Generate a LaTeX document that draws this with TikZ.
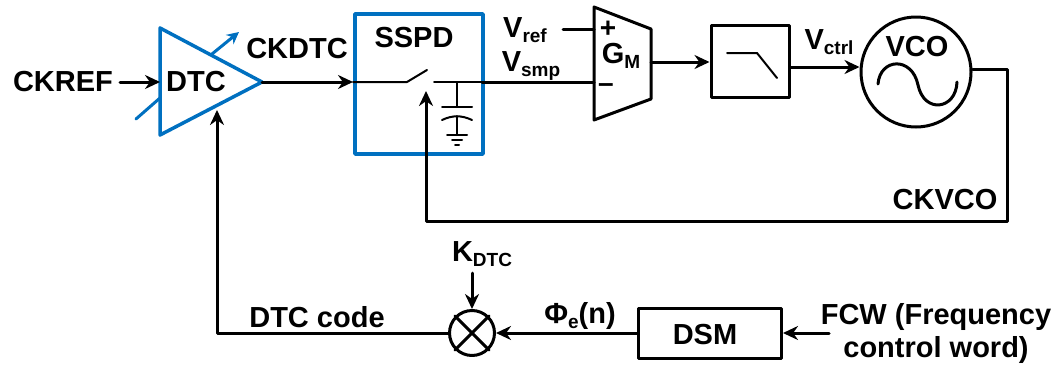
\documentclass[tikz,border=0pt]{standalone}
\usepackage{fontspec}
\usetikzlibrary{arrows.meta}
\setmainfont{Liberation Sans}
\definecolor{dtcblue}{RGB}{0,112,192}
\newcommand{\lbl}[2]{#1\raisebox{-5pt}{\fontsize{19}{19}\selectfont #2}}
\tikzset{
	lab/.style={font=\fontsize{29}{33}\selectfont\bfseries, inner sep=0pt, align=center},
	sign/.style={font=\fontsize{28}{28}\selectfont\bfseries, inner sep=0pt},
	wire/.style={line width=3pt},
	thinwire/.style={line width=2pt},
	bluewire/.style={line width=3.5pt, draw=dtcblue},
	block/.style={draw, line width=3pt, rectangle, inner sep=0pt}
}
\begin{document}
\begin{tikzpicture}[x=1pt, y=-1pt, line join=round, line cap=round, >={Stealth[length=15pt,width=14pt]}]
	\useasboundingbox (0,0) rectangle (1056,364);
	% DTC
	\coordinate (dtcTop) at (160,28);
	\coordinate (dtcBot) at (160,135);
	\coordinate (dtcOut) at (262,82);
	\coordinate (dtcIn) at (160,82);
	\coordinate (dtcFb) at (217,110);
	\coordinate (tuneA) at (136,119);
	\coordinate (tuneB) at (160,98);
	\coordinate (tuneC) at (212,54);
	\coordinate (tuneD) at (239,32);
	\draw[bluewire] (dtcTop)--(dtcOut)--(dtcBot)--cycle;
	\draw[bluewire, line width=3pt] (tuneA)--(tuneB);
	\draw[bluewire, line width=3pt, -{Stealth[length=12pt,width=12pt]}, dtcblue] (tuneC)--(tuneD);
	\node[lab] (dtcL) at (196,82) {DTC};
	\node[lab] (ckref) at (63,82) {CKREF};
	\coordinate (ckrefEnd) at (120,82);
	\draw[wire, ->] (ckrefEnd)--(dtcIn);
	\node[lab] (ckdtc) at (297,49) {CKDTC};
	% SSPD
	\node[draw=dtcblue, line width=3.5pt, minimum width=128pt, minimum height=140pt, inner sep=0pt] (sspd) at (419,84) {};
	\node[lab] (sspdL) at (414,38) {SSPD};
	\coordinate (swA) at (353,82);
	\coordinate (swB) at (407,82);
	\coordinate (swC) at (427,70);
	\coordinate (swD) at (434,82);
	\coordinate (swE) at (482,82);
	\coordinate (capA) at (457,82);
	\coordinate (capB) at (457,107);
	\coordinate (capC) at (457,116);
	\coordinate (capD) at (457,135);
	\draw[wire, ->] (dtcOut)--(swA);
	\draw[thinwire] (swA)--(swB)--(swC);
	\draw[thinwire] (swD)--(swE);
	\draw[thinwire] (capA)--(capB);
	\draw[thinwire] (442,107)--(472,107);
	\draw[thinwire] (442,120) to[out=25,in=155] (472,120);
	\draw[thinwire] (capC)--(capD);
	\draw[thinwire] (447,135)--(467,135);
	\draw[thinwire] (452,140)--(462,140);
	\draw[thinwire] (455,145)--(459,145);
	% GM
	\coordinate (gmA) at (594,7);
	\coordinate (gmB) at (651,29);
	\coordinate (gmC) at (651,99);
	\coordinate (gmD) at (594,120);
	\coordinate (gmP) at (594,29);
	\coordinate (gmN) at (594,82);
	\coordinate (gmOut) at (651,62);
	\coordinate (vrefEnd) at (563,29);
	\draw[wire] (gmA)--(gmB)--(gmC)--(gmD)--cycle;
	\draw[wire] (vrefEnd)--(gmP);
	\draw[wire] (swE)--(gmN);
	\node[sign] (plusL) at (608,29) {+};
	\node[sign, anchor=base] (minusL) at (606,92) {--};
	\node[lab] (gmL) at (621,56) {\lbl{G}{M}};
	\node[lab] (vref) at (525,30) {\lbl{V}{ref}};
	\node[lab] (vsmp) at (531,66) {\lbl{V}{smp}};
	% filter
	\node[block, minimum width=78pt, minimum height=72pt] (lpf) at (750,61) {};
	\coordinate (lpfA) at (727,53);
	\coordinate (lpfB) at (757,53);
	\coordinate (lpfC) at (777,78);
	\draw[thinwire] (lpfA)--(lpfB)--(lpfC);
	\draw[wire, ->] (gmOut)--(lpf.west |- gmOut);
	% VCO
	\node[draw, circle, line width=3pt, minimum size=110pt, inner sep=0pt] (vco) at (916,72) {};
	\node[lab] (vcoL) at (917,47) {VCO};
	\draw[line width=3pt] (878,84) .. controls (880,58) and (912,56) .. (918,85) .. controls (924,114) and (956,110) .. (957,82);
	\draw[wire, ->] (lpf.east |- 0,67)--(vco.west |- 0,67);
	\node[lab] (vctrl) at (829,42) {\lbl{V}{ctrl}};
	\coordinate (fbA) at (1007,69);
	\coordinate (fbB) at (1007,221);
	\coordinate (fbC) at (426,221);
	\coordinate (fbD) at (426,91);
	\draw[wire, ->] (vco.east |- fbA)--(fbA)--(fbB)--(fbC)--(fbD);
	\node[lab] (ckvco) at (945,200) {CKVCO};
	% bottom row
	\node[draw, circle, line width=3pt, minimum size=45pt, inner sep=0pt] (mix) at (472,333) {};
	\draw[line width=3pt] (mix.north west)--(mix.south east);
	\draw[line width=3pt] (mix.north east)--(mix.south west);
	\node[block, minimum width=143pt, minimum height=50pt] (dsm) at (710,333) {};
	\node[lab] (dsmL) at (705,335) {DSM};
	\node[lab] (kdtc) at (482,254) {\lbl{K}{DTC}};
	\coordinate (kEnd) at (472,273);
	\draw[wire, ->] (kEnd)--(mix.north);
	\draw[wire, ->] (dsm.west)--(mix.east);
	\node[lab] (phi) at (580,316) {\lbl{Φ}{e}(n)};
	\coordinate (fcwEnd) at (829,333);
	\draw[wire, ->] (fcwEnd)--(dsm.east);
	\node[lab] (fcw) at (936,333) {FCW (Frequency\\control word)};
	\coordinate (codeA) at (217,333);
	\draw[wire, ->] (mix.west)--(codeA)--(dtcFb);
	\node[lab] (code) at (317,317) {DTC code};
\end{tikzpicture}
\end{document}
